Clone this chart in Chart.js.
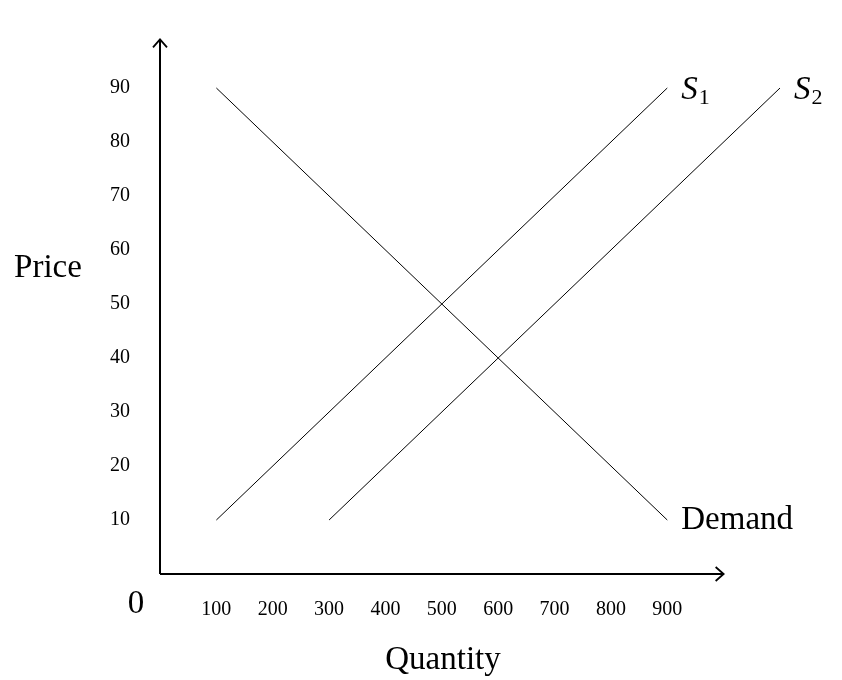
<!DOCTYPE html>
<html><head><meta charset="utf-8">
<script src="https://cdn.jsdelivr.net/npm/chart.js@4"></script>
<style>html,body{margin:0;background:#fff}#w{width:842px;height:680px}</style>
</head><body><div id="w"><canvas id="c"></canvas></div>
<script>
const xTicks=[100,200,300,400,500,600,700,800,900];
const yTicks=[10,20,30,40,50,60,70,80,90];
const demand=[{x:100,y:90},{x:900,y:10}];
const supply1=[{x:100,y:10},{x:900,y:90}];
const supply2=[{x:300,y:10},{x:1100,y:90}];
const F='"Liberation Serif", "DejaVu Serif", serif';
const ds=(d)=>({data:d,showLine:true,borderColor:'#000',borderWidth:1,pointRadius:0,fill:false});
const deco={id:'deco',afterDraw(ch){
  const c=ch.ctx,x=ch.scales.x,y=ch.scales.y;
  const x0=x.getPixelForValue(0),y0=y.getPixelForValue(0);
  const xe=x.getPixelForValue(1000),ye=y.getPixelForValue(99);
  c.save();c.strokeStyle='#000';c.lineWidth=2;
  c.beginPath();c.moveTo(x0,y0);c.lineTo(xe,y0);c.moveTo(x0,y0);c.lineTo(x0,ye);c.stroke();
  c.lineWidth=1.8;c.beginPath();
  c.moveTo(xe-8,y0-7);c.lineTo(xe,y0);c.lineTo(xe-8,y0+7);
  c.moveTo(x0-7,ye+8);c.lineTo(x0,ye);c.lineTo(x0+7,ye+8);c.stroke();
  c.fillStyle='#000';c.textBaseline='middle';
  c.font='33px '+F;c.textAlign='center';
  c.fillText('0',x0-24,y0+30);
  c.fillText('Price',48,268);
  c.fillText('Quantity',443,660);
  c.textAlign='left';
  c.fillText('Demand',x.getPixelForValue(900)+14,y.getPixelForValue(10));
  const sub=(t,n,px,py)=>{c.font='italic 33px '+F;c.fillText(t,px,py);const w=c.measureText(t).width;c.font='22px '+F;c.fillText(n,px+w+1,py+8);};
  sub('S',1,x.getPixelForValue(900)+14,y.getPixelForValue(90)+2);
  sub('S',2,x.getPixelForValue(1100)+14,y.getPixelForValue(90)+2);
  c.restore();
}};
new Chart(document.getElementById('c'),{type:'scatter',
data:{datasets:[ds(demand),ds(supply1),ds(supply2)]},
options:{responsive:true,maintainAspectRatio:false,animation:false,
layout:{padding:{top:-13,right:62,left:0,bottom:0}},
plugins:{legend:{display:false},tooltip:{enabled:false}},
scales:{
x:{type:'linear',min:0,max:1100,grid:{display:false},border:{display:false},
  afterBuildTicks(s){s.ticks=xTicks.map(v=>({value:v}));},
  afterFit(s){s.height=106;},
  ticks:{padding:16,color:'#000',font:{family:F,size:20},maxRotation:0}},
y:{type:'linear',min:0,max:100,grid:{display:false},border:{display:false},
  afterBuildTicks(s){s.ticks=yTicks.map(v=>({value:v}));},
  afterFit(s){s.width=160;},
  ticks:{padding:22,color:'#000',font:{family:F,size:20}}}
}},plugins:[deco]});
</script></body></html>
